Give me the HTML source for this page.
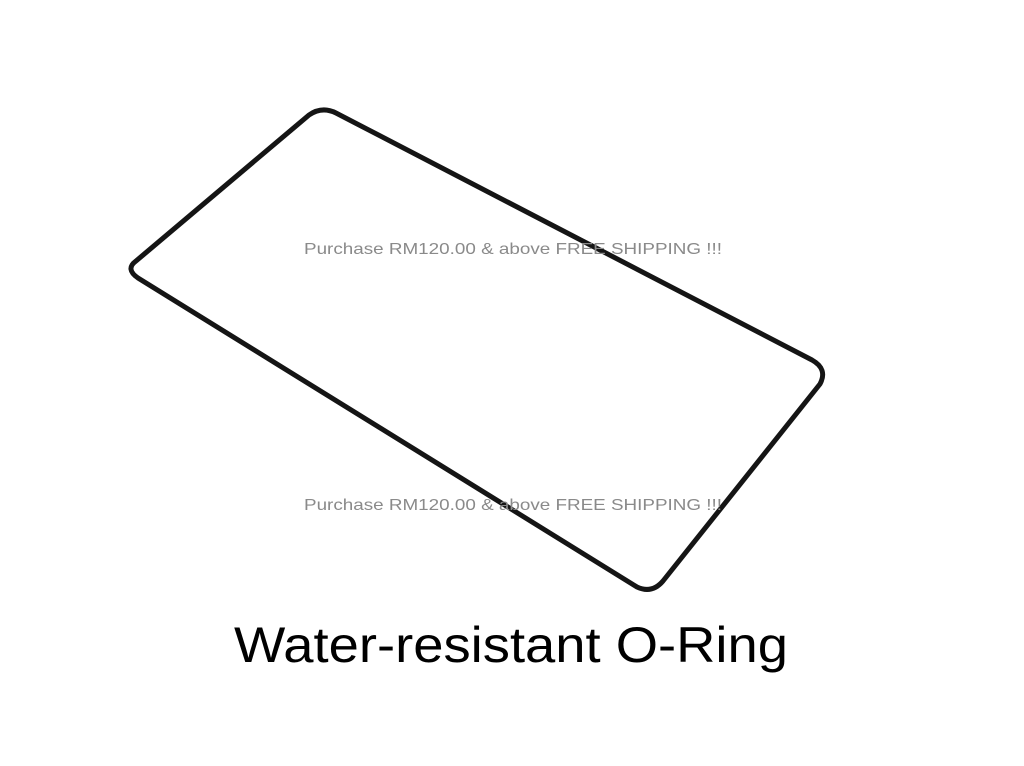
<!DOCTYPE html>
<html><head><meta charset="utf-8"><style>
html,body{margin:0;padding:0;background:#fff;}
svg{display:block;}
</style></head><body>
<svg width="1024" height="766" viewBox="0 0 1024 766" xmlns="http://www.w3.org/2000/svg">
<rect width="1024" height="766" fill="#fff"/>
<path d="M136 261 L309 115 Q322 106 336 113 L812 360 Q828 369 820 384 L663 581 Q652 594 637 587 L138 278 Q125 269 136 261 Z" fill="none" stroke="#151515" stroke-width="5" stroke-linejoin="round"/>
<g font-family="Liberation Sans, Arial, sans-serif" fill="#8a8a8a" font-size="16">
<text x="304" y="254" textLength="418" lengthAdjust="spacingAndGlyphs">Purchase RM120.00 &amp; above FREE SHIPPING !!!</text>
<text x="304" y="510" textLength="418" lengthAdjust="spacingAndGlyphs">Purchase RM120.00 &amp; above FREE SHIPPING !!!</text>
</g>
<text x="234" y="662" font-family="Liberation Sans, Arial, sans-serif" font-size="50" fill="#000" textLength="554" lengthAdjust="spacingAndGlyphs">Water-resistant O-Ring</text>
</svg>
</body></html>
